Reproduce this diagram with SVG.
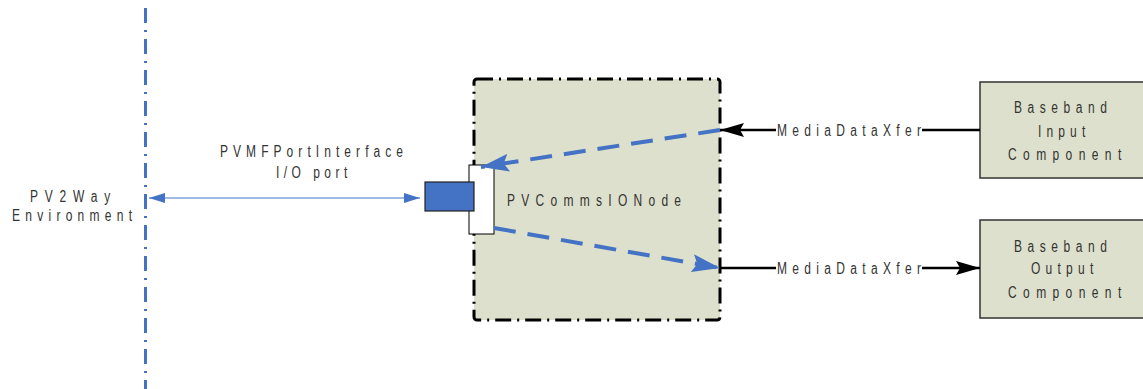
<svg xmlns="http://www.w3.org/2000/svg" width="1143" height="389" viewBox="0 0 1143 389">
<defs>
<style>
.t{font-family:"Liberation Sans",Arial,sans-serif;font-size:16px;fill:#333}
.box{fill:#DDE0CC;stroke:#333;stroke-width:1.5}
.blk{stroke:#000;stroke-width:2.5;fill:none}
.bdash{stroke:#4472C4;stroke-width:4;fill:none;stroke-dasharray:22 12}
</style>
<marker id="ab" viewBox="0 0 24 14" refX="24" refY="7" markerWidth="24" markerHeight="14" markerUnits="userSpaceOnUse" orient="auto"><path d="M0,0 L24,7 L0,14 L4,7 Z" fill="#000"/></marker>
<marker id="ablue" viewBox="0 0 28 18" refX="28" refY="9" markerWidth="28" markerHeight="18" markerUnits="userSpaceOnUse" orient="auto"><path d="M0,0 L28,9 L0,18 L5,9 Z" fill="#4472C4"/></marker>
<marker id="asm" viewBox="0 0 16 10" refX="16" refY="5" markerWidth="16" markerHeight="10" markerUnits="userSpaceOnUse" orient="auto-start-reverse"><path d="M0,0 L16,5 L0,10 Z" fill="#4472C4"/></marker>
</defs>
<g id="env">
<line x1="145.5" y1="8" x2="145.5" y2="389" stroke="#4472C4" stroke-width="3" stroke-dasharray="15 7 2 7"/>
<text class="t" transform="translate(30,202) scale(0.75,1)" textLength="107" lengthAdjust="spacing">PV2Way</text>
<text class="t" transform="translate(12,221) scale(0.75,1)" textLength="160" lengthAdjust="spacing">Environment</text>
</g>
<g id="node-main">
<rect x="474" y="79" width="246" height="241" rx="3" fill="#DDE0CC" stroke="#000" stroke-width="3" stroke-dasharray="16 6 2 6"/>
<text class="t" transform="translate(507,206) scale(0.75,1)" textLength="232" lengthAdjust="spacing">PVCommsIONode</text>
</g>
<g id="port">
<rect x="469" y="165" width="25" height="69" fill="#fff" stroke="#000" stroke-width="1"/>
<rect x="425" y="182" width="49" height="29" fill="#4472C4" stroke="#222" stroke-width="1.2"/>
<text class="t" transform="translate(220,157) scale(0.75,1)" textLength="244" lengthAdjust="spacing">PVMFPortInterface</text>
<text class="t" transform="translate(276,178) scale(0.75,1)" textLength="95" lengthAdjust="spacing">I/O port</text>
</g>
<g id="node-in">
<rect class="box" x="980" y="82" width="165" height="96"/>
<text class="t" transform="translate(1014,113) scale(0.75,1)" textLength="124" lengthAdjust="spacing">Baseband</text>
<text class="t" transform="translate(1038,137) scale(0.75,1)" textLength="63" lengthAdjust="spacing">Input</text>
<text class="t" transform="translate(1008,160) scale(0.75,1)" textLength="151" lengthAdjust="spacing">Component</text>
</g>
<g id="node-out">
<rect class="box" x="980" y="220" width="165" height="98"/>
<text class="t" transform="translate(1014,252) scale(0.75,1)" textLength="124" lengthAdjust="spacing">Baseband</text>
<text class="t" transform="translate(1031,274) scale(0.75,1)" textLength="83" lengthAdjust="spacing">Output</text>
<text class="t" transform="translate(1008,298) scale(0.75,1)" textLength="151" lengthAdjust="spacing">Component</text>
</g>
<g id="connectors">
<line x1="149" y1="198" x2="420" y2="198" stroke="#4472C4" stroke-width="1.2" marker-start="url(#asm)" marker-end="url(#asm)"/>
<line class="blk" x1="980" y1="130" x2="922" y2="130"/>
<line class="blk" x1="776" y1="130" x2="720" y2="130" marker-end="url(#ab)"/>
<text class="t" transform="translate(777,136) scale(0.75,1)" textLength="192" lengthAdjust="spacing">MediaDataXfer</text>
<line class="blk" x1="720" y1="268" x2="776" y2="268"/>
<line class="blk" x1="922" y1="268" x2="980" y2="268" marker-end="url(#ab)"/>
<text class="t" transform="translate(777,274) scale(0.75,1)" textLength="192" lengthAdjust="spacing">MediaDataXfer</text>
<line class="bdash" x1="720" y1="130" x2="481" y2="167" marker-end="url(#ablue)"/>
<line class="bdash" x1="494" y1="228" x2="720" y2="268" marker-end="url(#ablue)"/>
</g>
</svg>
